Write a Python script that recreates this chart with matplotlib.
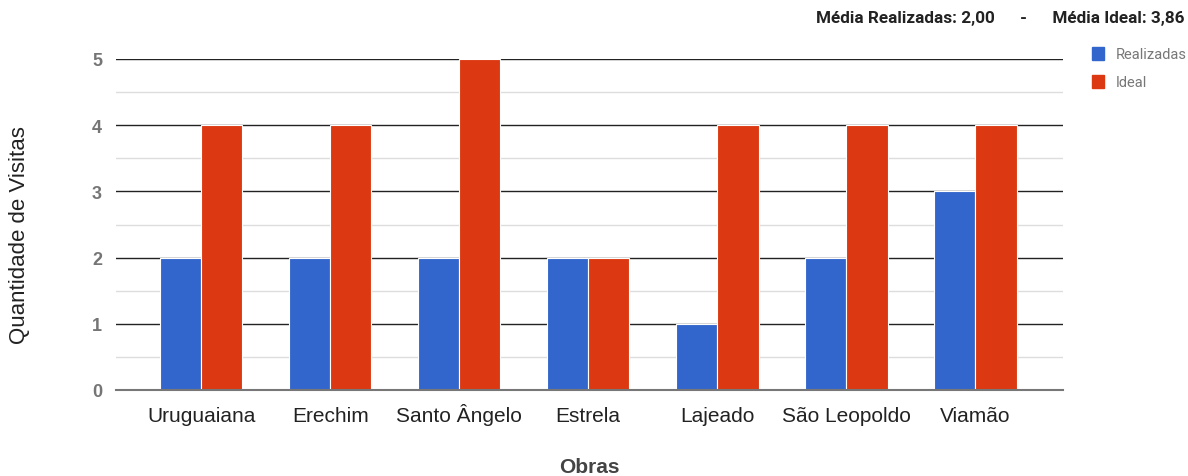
import matplotlib
matplotlib.use("Agg")
import matplotlib.pyplot as plt
import numpy as np
from matplotlib.patches import Rectangle

categories = ["Uruguaiana", "Erechim", "Santo Ângelo", "Estrela", "Lajeado", "São Leopoldo", "Viamão"]
realizadas = [2, 2, 2, 2, 1, 2, 3]
ideal = [4, 4, 5, 2, 4, 4, 4]
series_names = ["Realizadas", "Ideal"]
colors = ["#3366cc", "#dc3912"]
y_ticks = [0, 1, 2, 3, 4, 5]
title_text = "Média Realizadas: 2,00      -      Média Ideal: 3,86"

plt.rcParams['font.family'] = ['Liberation Sans', 'DejaVu Sans']
ROBOTO = ['Roboto', 'DejaVu Sans']

fig = plt.figure(figsize=(11.88, 4.77), dpi=100)
ax = fig.add_axes([116/1188, 1-391/477, (1063-116)/1188, (391-60)/477])

x = np.arange(len(categories))
w = 0.32
ax.bar(x - w/2, realizadas, width=w, color=colors[0], edgecolor="white", linewidth=0.8, zorder=3)
ax.bar(x + w/2, ideal, width=w, color=colors[1], edgecolor="white", linewidth=0.8, zorder=3)

ax.set_xlim(-0.66, 6.68)
ax.set_ylim(0, 5)
ax.set_yticks(y_ticks)
ax.set_yticks(np.arange(0.5, 5, 1), minor=True)
ax.grid(axis='y', which='major', color='#222222', linewidth=1.0, zorder=1)
ax.grid(axis='y', which='minor', color='#dddddd', linewidth=1.0, zorder=1)
ax.set_axisbelow(True)
for s in ['top', 'right', 'left']:
    ax.spines[s].set_visible(False)
ax.spines['bottom'].set_color('#777777')
ax.spines['bottom'].set_linewidth(1.5)
ax.spines['bottom'].set_zorder(4)

ax.set_xticks(x)
ax.set_xticklabels(categories, fontsize=15, color='#222222', va='baseline')
ax.tick_params(axis='x', length=0, pad=22.3)
ax.tick_params(axis='y', which='both', length=0, pad=10, labelsize=13, labelcolor='#757575')
for lbl in ax.get_yticklabels():
    lbl.set_fontweight('bold')

fig.text(20/1188, 1-235/477, "Quantidade de Visitas", rotation=90, ha='center', va='center',
         fontsize=16, color='#222222')
fig.text(589/1188, 1-468/477, "Obras", ha='center', va='center', fontsize=15,
         fontweight='bold', color='#444444')

fig.text(1185/1188, 1-18/477, title_text, ha='right', va='center', fontsize=12.3,
         fontweight='bold', color='#222222', family=ROBOTO)

# legend
for i, (name, c) in enumerate(zip(series_names, colors)):
    yc = 1 - (55 + 28*i)/477
    fig.patches.append(Rectangle((1092/1188, yc - 6/477), 12/1188, 13/477, transform=fig.transFigure,
                                 color=c, figure=fig))
    fig.text(1116/1188, yc, name, ha='left', va='center', fontsize=10.5, color='#777777', family=ROBOTO)

fig.savefig("out.png", dpi=100)
